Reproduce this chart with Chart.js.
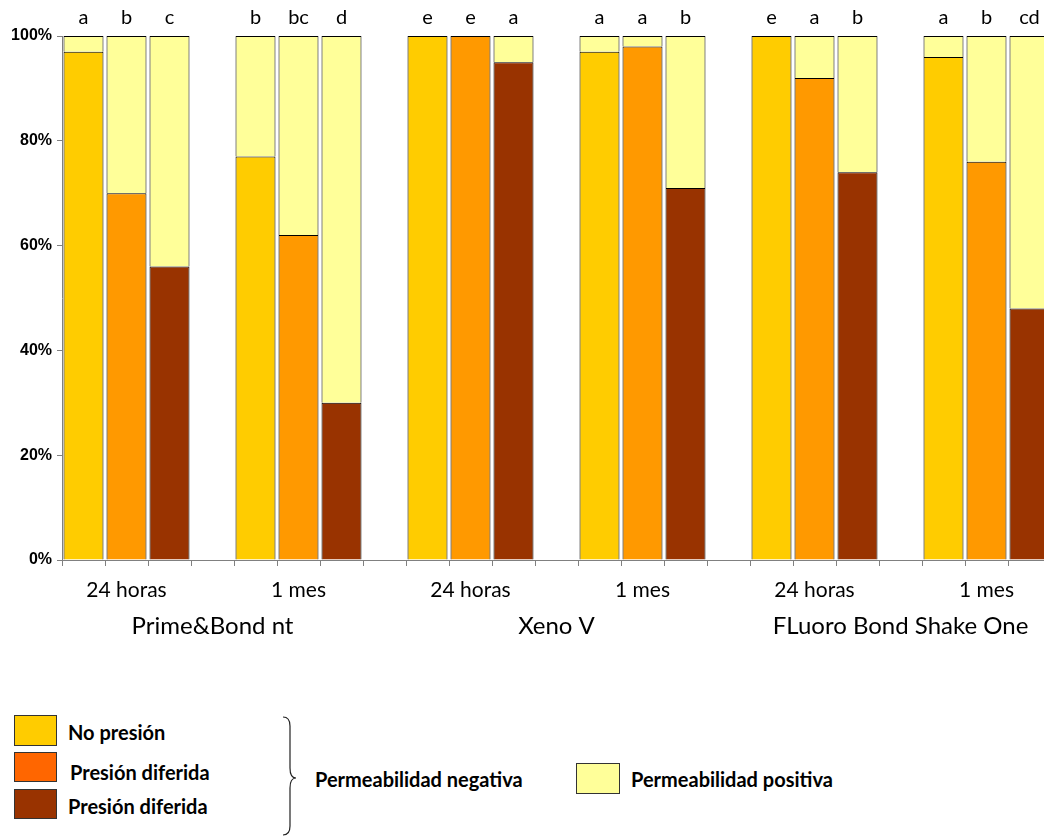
<!DOCTYPE html>
<html>
<head>
<meta charset="utf-8">
<script src="https://cdn.jsdelivr.net/npm/chart.js@4"></script>
<style>
    html, body { margin: 0; padding: 0; background: #fff; overflow: hidden; width: 1044px; height: 837px; }
    #wrap { position: absolute; left: 0; top: 0; width: 1051px; height: 650px; }
    .leg { position: absolute; font-family: Lato, "Open Sans", sans-serif; font-weight: bold; font-size: 20px; line-height: 20px; color: #000; white-space: nowrap; }
    .box { position: absolute; border: 1.5px solid #333; box-sizing: border-box; }
</style>
</head>
<body>
<div id="wrap"><canvas id="chart" width="1051" height="650"></canvas></div>

<div class="box" style="left:14px;top:715px;width:43px;height:31px;background:#FFCC00"></div>
<div class="box" style="left:14px;top:752px;width:43px;height:30px;background:#FF6600"></div>
<div class="box" style="left:14px;top:789px;width:43px;height:30px;background:#993300"></div>
<div class="leg" style="left:68px;top:722px">No presión</div>
<div class="leg" style="left:70px;top:762px">Presión diferida</div>
<div class="leg" style="left:68px;top:796px">Presión diferida</div>
<svg style="position:absolute;left:280px;top:714px" width="24" height="124">
    <path d="M3 3 Q10 3 10 12 L10 54 Q10 64 16 64 Q10 64 10 74 L10 112 Q10 121 3 121" fill="none" stroke="#222" stroke-width="1.2"/>
</svg>
<div class="leg" style="left:315px;top:769px">Permeabilidad negativa</div>
<div class="box" style="left:576px;top:763px;width:44px;height:31px;background:#FFFF99"></div>
<div class="leg" style="left:631px;top:769px">Permeabilidad positiva</div>

<script>
// datos del grafico
const tiempos = ["24 horas", "1 mes", "24 horas", "1 mes", "24 horas", "1 mes"];
const materiales = ["Prime&Bond nt", "Xeno V", "FLuoro Bond Shake One"];
const noPresion = [97, 77, 100, 97, 100, 96];
const presionDiferida = [70, 62, 100, 98, 92, 76];
const presionDiferida2 = [56, 30, 95, 71, 74, 48];
const letras = [["a", "b", "c"], ["b", "bc", "d"], ["e", "e", "a"], ["a", "a", "b"], ["e", "a", "b"], ["a", "b", "cd"]];
const yTicks = [0, 20, 40, 60, 80, 100];

const nSlots = tiempos.length * 4 - 1;
let labels = [];
let serieNo = [], serieDif = [], serieDif2 = [], seriePos = [], letrasSlot = [];
for (let i = 0; i < nSlots; i++) {
    labels.push("");
    serieNo.push(null); serieDif.push(null); serieDif2.push(null); seriePos.push(null);
    letrasSlot.push("");
}
tiempos.forEach(function (t, g) {
    let base = g * 4;
    labels[base + 1] = t;
    serieNo[base] = noPresion[g];
    serieDif[base + 1] = presionDiferida[g];
    serieDif2[base + 2] = presionDiferida2[g];
    seriePos[base] = 100 - noPresion[g];
    seriePos[base + 1] = 100 - presionDiferida[g];
    seriePos[base + 2] = 100 - presionDiferida2[g];
    for (let k = 0; k < 3; k++) letrasSlot[base + k] = letras[g][k];
});

const textosPlugin = {
    id: "textos",
    afterDraw(chart) {
        const ctx = chart.ctx;
        const x = chart.scales.x;
        const top = chart.chartArea.top;
        ctx.save();
        ctx.fillStyle = "#000";
        ctx.textAlign = "center";
        ctx.textBaseline = "middle";
        ctx.font = "20px Lato, 'Open Sans', sans-serif";
        letrasSlot.forEach(function (l, i) {
            if (l) ctx.fillText(l, x.getPixelForValue(i), top - 18);
        });
        ctx.font = "24px Lato, 'Open Sans', sans-serif";
        materiales.forEach(function (m, p) {
            ctx.fillText(m, x.getPixelForValue(p * 8 + 3), 626);
        });
        ctx.restore();
    }
};

const comun = { borderColor: "#000", borderWidth: 1, barPercentage: 0.93, categoryPercentage: 1 };

new Chart(document.getElementById("chart").getContext("2d"), {
    type: "bar",
    data: {
        labels: labels,
        datasets: [
            Object.assign({ label: "No presión", data: serieNo, backgroundColor: "#FFCC00" }, comun),
            Object.assign({ label: "Presión diferida", data: serieDif, backgroundColor: "#FF9900" }, comun),
            Object.assign({ label: "Presión diferida", data: serieDif2, backgroundColor: "#993300" }, comun),
            Object.assign({ label: "Permeabilidad positiva", data: seriePos, backgroundColor: "#FFFF99" }, comun),
        ],
    },
    options: {
        responsive: false,
        animation: false,
        layout: { padding: { top: 36, left: 0, right: 0, bottom: 0 } },
        plugins: { legend: { display: false }, tooltip: { enabled: false } },
        scales: {
            x: {
                stacked: true,
                grid: { drawOnChartArea: false, color: "#808080", tickLength: 6, offset: true },
                border: { color: "#808080" },
                ticks: {
                    autoSkip: false, maxRotation: 0, color: "#000", padding: 12,
                    font: { family: "Lato, 'Open Sans', sans-serif", size: 21 },
                },
                afterFit(s) { s.height = 90; },
            },
            y: {
                stacked: true,
                min: 0,
                max: 100,
                afterBuildTicks(s) { s.ticks = yTicks.map(function (v) { return { value: v }; }); },
                grid: { drawOnChartArea: false, color: "#808080", tickLength: 5 },
                border: { color: "#808080" },
                ticks: {
                    color: "#000", padding: 5,
                    font: { family: "Arial, 'Liberation Sans', sans-serif", size: 16, weight: "bold" },
                    callback: function (v) { return v + "%"; },
                },
                afterFit(s) { s.width = 62; },
            },
        },
    },
    plugins: [textosPlugin],
});
</script>
</body>
</html>
